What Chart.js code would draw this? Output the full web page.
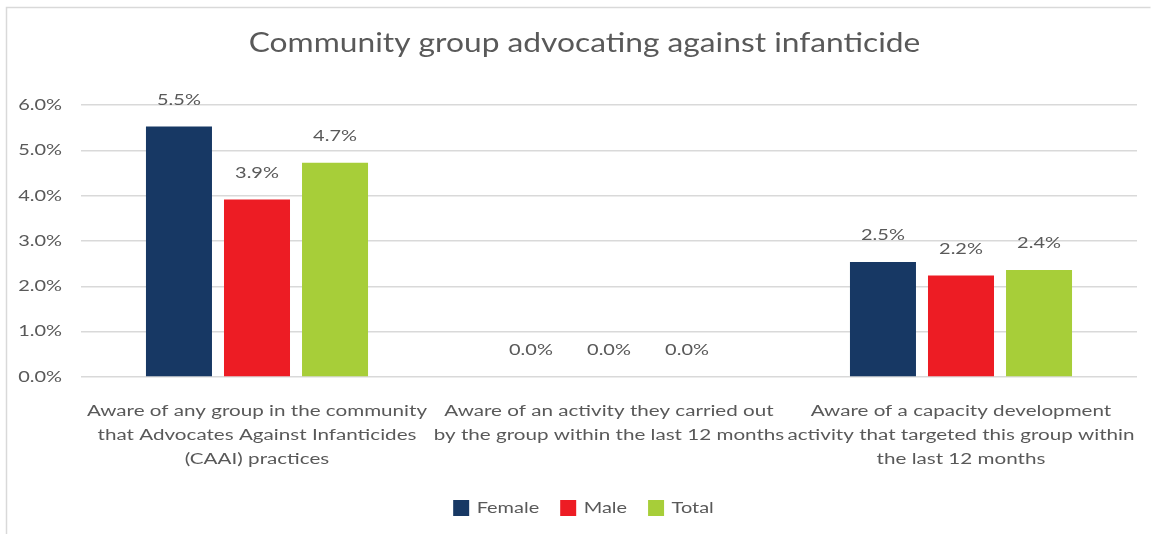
<!DOCTYPE html>
<html>
<head>
<meta charset="utf-8">
<script src="https://cdn.jsdelivr.net/npm/chart.js@4"></script>
<style>
  html, body { margin: 0; padding: 0; background: #ffffff; }
  #wrap { width: 1155px; height: 534px; position: relative; }
</style>
</head>
<body>
<div id="wrap"><canvas id="c" width="1155" height="534"></canvas></div>
<script>
const categories = [
  ["Aware of any group in the community", "that Advocates Against Infanticides", "(CAAI) practices"],
  ["Aware of an activity they carried out", "by the group within the last 12 months"],
  ["Aware of a capacity development", "activity that targeted this group within", "the last 12 months"]
];
const seriesNames = ["Female", "Male", "Total"];
const femaleValues = [5.53, 0.0, 2.54];
const maleValues = [3.92, 0.0, 2.24];
const totalValues = [4.73, 0.0, 2.36];
const yTicks = [0, 1, 2, 3, 4, 5, 6];
const colors = ["#173864", "#ED1C24", "#A7CE39"];

const FONT = "Lato, 'Open Sans', sans-serif";
const TEXT = "#595959";

// The reference renders its text horizontally wide; widen glyphs to match.
function stretchFor(font) {
  const m = /([\d.]+)px/.exec(font || "");
  const size = m ? parseFloat(m[1]) : 12;
  return size >= 20 ? 1.22 : 1.33;
}
const P = CanvasRenderingContext2D.prototype;
const origFill = P.fillText;
const origMeasure = P.measureText;
P.fillText = function (t, x, y, maxW) {
  const k = stretchFor(this.font);
  this.save();
  this.translate(x, y);
  this.scale(k, 1);
  if (maxW === undefined || maxW === null) origFill.call(this, t, 0, 0);
  else origFill.call(this, t, 0, 0, maxW / k);
  this.restore();
};
P.measureText = function (t) {
  const m = origMeasure.call(this, t);
  const k = stretchFor(this.font);
  return {
    width: m.width * k,
    actualBoundingBoxLeft: m.actualBoundingBoxLeft * k,
    actualBoundingBoxRight: m.actualBoundingBoxRight * k,
    actualBoundingBoxAscent: m.actualBoundingBoxAscent,
    actualBoundingBoxDescent: m.actualBoundingBoxDescent,
    fontBoundingBoxAscent: m.fontBoundingBoxAscent,
    fontBoundingBoxDescent: m.fontBoundingBoxDescent
  };
};

const valueLabels = {
  id: "valueLabels",
  afterDatasetsDraw(chart) {
    const ctx = chart.ctx;
    ctx.save();
    ctx.font = "15px " + FONT;
    ctx.fillStyle = TEXT;
    ctx.textAlign = "center";
    ctx.textBaseline = "bottom";
    chart.data.datasets.forEach((ds, di) => {
      const meta = chart.getDatasetMeta(di);
      meta.data.forEach((bar, i) => {
        ctx.fillText(ds.data[i].toFixed(1) + "%", bar.x, bar.y - 19);
      });
    });
    ctx.restore();
  }
};

const frame = {
  id: "frame",
  afterLayout(chart) {
    if (chart.titleBlock) { chart.titleBlock.left += 11; chart.titleBlock.right += 11; }
    if (chart.legend) { chart.legend.left += 10; chart.legend.right += 10; }
  },
  beforeDraw(chart) {
    const ctx = chart.ctx;
    ctx.save();
    ctx.fillStyle = "#ffffff";
    ctx.fillRect(0, 0, chart.width, chart.height);
    ctx.strokeStyle = "#d9d9d9";
    ctx.lineWidth = 1.5;
    ctx.beginPath();
    ctx.moveTo(6.5, chart.height);
    ctx.lineTo(6.5, 7.5);
    ctx.lineTo(1150.5, 7.5);
    ctx.stroke();
    ctx.restore();
  }
};

new Chart(document.getElementById("c"), {
  type: "bar",
  data: {
    labels: categories,
    datasets: [
      { label: seriesNames[0], data: femaleValues, backgroundColor: colors[0] },
      { label: seriesNames[1], data: maleValues, backgroundColor: colors[1] },
      { label: seriesNames[2], data: totalValues, backgroundColor: colors[2] }
    ]
  },
  options: {
    responsive: false,
    animation: false,
    devicePixelRatio: 1,
    categoryPercentage: 0.665,
    barPercentage: 0.846,
    layout: { padding: { left: 10, right: 18, top: 10, bottom: 8 } },
    plugins: {
      title: {
        display: true,
        text: "Community group advocating against infanticide",
        color: TEXT,
        font: { family: FONT, size: 26, weight: "normal" },
        padding: { top: 18, bottom: 46 }
      },
      legend: {
        position: "bottom",
        labels: {
          color: TEXT,
          font: { family: FONT, size: 15 },
          boxWidth: 16,
          boxHeight: 16,
          padding: 21
        }
      },
      tooltip: { enabled: false }
    },
    scales: {
      x: {
        grid: { display: false },
        border: { display: false },
        afterFit(scale) { scale.height -= 6; },
        ticks: {
          color: TEXT,
          font: { family: FONT, size: 15.5, lineHeight: 1.55 },
          maxRotation: 0,
          autoSkip: false,
          padding: 14
        }
      },
      y: {
        min: 0,
        max: 6,
        afterBuildTicks(scale) { scale.ticks = yTicks.map(v => ({ value: v })); },
        afterFit(scale) { scale.width = 71; },
        grid: { color: "#d9d9d9", lineWidth: 1.5, drawTicks: false },
        border: { display: false },
        ticks: {
          color: TEXT,
          font: { family: FONT, size: 15 },
          padding: 19,
          callback: v => v.toFixed(1) + "%"
        }
      }
    }
  },
  plugins: [frame, valueLabels]
});
</script>
</body>
</html>
